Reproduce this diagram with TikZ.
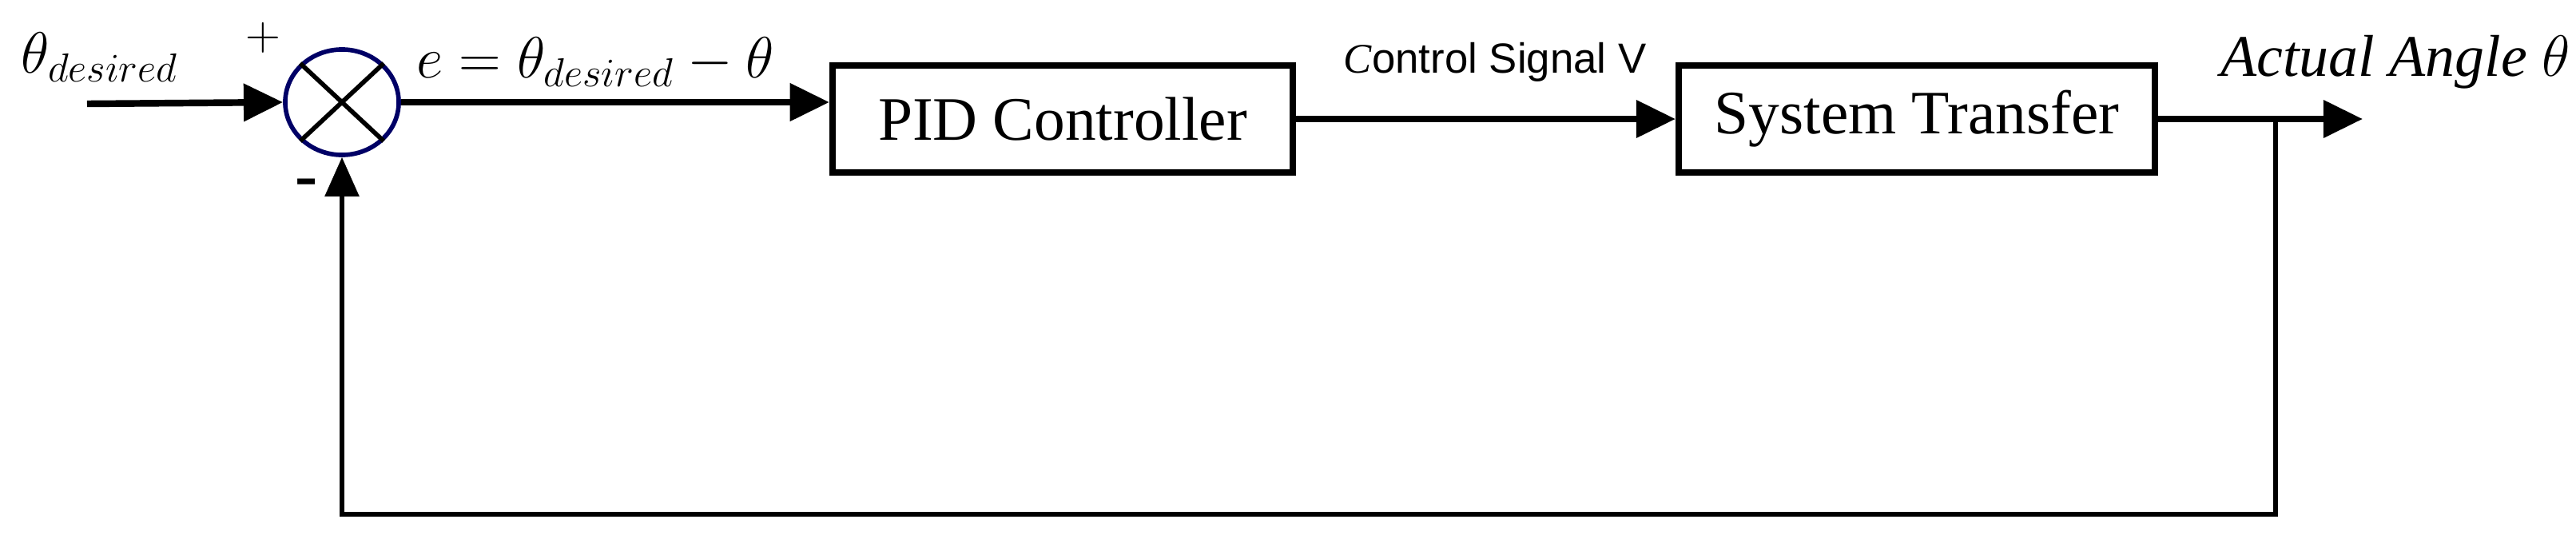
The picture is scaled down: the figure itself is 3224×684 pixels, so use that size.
\documentclass[tikz,border=0pt]{standalone}
\usepackage{fontspec}
\setmainfont{Liberation Serif}
\newfontfamily\csans{Liberation Sans}
\usetikzlibrary{arrows.meta,shapes.geometric}
\begin{document}
\begin{tikzpicture}[x=0.01cm,y=-0.01cm,
  blk/.style={draw,line width=2.2pt,minimum width=5.76cm,minimum height=1.34cm,font=\fontsize{22}{26}\selectfont},
  sig/.style={line width=2.4pt,-{Triangle[length=14pt,width=13pt]}},
  fb/.style={line width=1.6pt},
  lbl/.style={font=\fontsize{21}{24}\selectfont}]
\useasboundingbox (0,0) rectangle (3224,684);
\node[blk] (pid) at (1330,149) {PID Controller};
\node[blk,minimum width=5.96cm] (sys) at (2399,149) {System Transfer};
\node[draw=blue!40!black,line width=1.6pt,ellipse,minimum width=1.42cm,minimum height=1.32cm,inner sep=0pt] (sum) at (428,128) {};
\draw[line width=1.6pt] (sum.north west) -- (sum.south east) (sum.north east) -- (sum.south west);
\coordinate (in) at (109,130);
\coordinate (out) at (2957,149);
\coordinate (tap) at (2848,149);
\coordinate (bot1) at (2848,644);
\coordinate (bot2) at (428,644);
\draw[sig] (in) -- (sum.west);
\draw[sig] (sum.east) -- (sum.east -| pid.west);
\draw[sig] (pid.east) -- (sys.west);
\draw[sig] (sys.east) -- (out);
\draw[fb,-{Triangle[length=14pt,width=12pt]}] (tap) -- (bot1) -- (bot2) -- (sum.south);
\node[lbl] (lin) at (125,72) {$\theta_{desired}$};
\node[font=\fontsize{18}{20}\selectfont] (plus) at (329,47) {$+$};
\node[font=\bfseries\fontsize{24}{24}\selectfont] (minus) at (384,236) {-};
\node[lbl] (le) at (745,78) {$e=\theta_{desired}-\theta$};
\node[font=\fontsize{15}{18}\selectfont] (lc) at (1871,78) {\textit{C}\csans ontrol Signal V};
\node[lbl] (la) at (2998,78) {\textit{Actual Angle} $\theta$};
\end{tikzpicture}
\end{document}
